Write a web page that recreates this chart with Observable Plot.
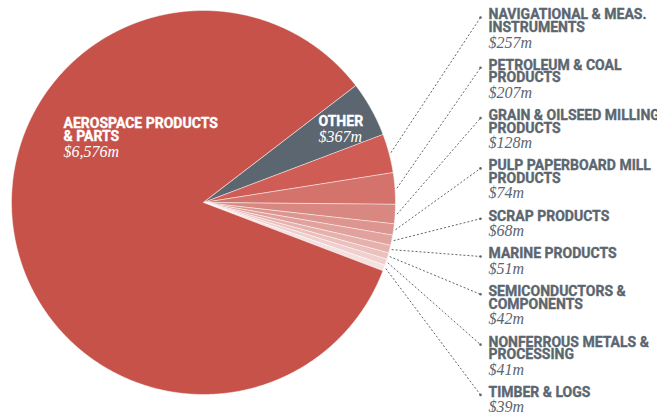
<!DOCTYPE html>
<html><head><meta charset="utf-8">
<script src="https://cdn.jsdelivr.net/npm/d3@7"></script>
<script src="https://cdn.jsdelivr.net/npm/@observablehq/plot@0.6"></script>
<style>html,body{margin:0;padding:0;background:#fff;} svg{display:block}</style>
</head><body><div id="chart"></div>
<script>
// ---- data ----
const categories = ["Other", "Navigational & Meas. Instruments", "Petroleum & Coal Products", "Grain & Oilseed Milling Products", "Pulp Paperboard Mill Products", "Scrap Products", "Marine Products", "Semiconductors & Components", "Nonferrous Metals & Processing", "Timber & Logs", "Aerospace Products & Parts"];
const labelText = ["OTHER", "NAVIGATIONAL & MEAS.\nINSTRUMENTS", "PETROLEUM & COAL\nPRODUCTS", "GRAIN & OILSEED MILLING\nPRODUCTS", "PULP PAPERBOARD MILL\nPRODUCTS", "SCRAP PRODUCTS", "MARINE PRODUCTS", "SEMICONDUCTORS &\nCOMPONENTS", "NONFERROUS METALS &\nPROCESSING", "TIMBER & LOGS", "AEROSPACE PRODUCTS\n& PARTS"];
const values = [367, 257, 207, 128, 74, 68, 51, 42, 41, 39, 6576];
const valueLabels = ["$367m", "$257m", "$207m", "$128m", "$74m", "$68m", "$51m", "$42m", "$41m", "$39m", "$6,576m"];
const palette = ["#5b6670", "#cf5d55", "#d4736c", "#d98781", "#dd958f", "#e1a29e", "#e6b1ad", "#ebc0bd", "#f0d0ce", "#f5e1e0", "#c6524a"];

// ---- layout ----
const W = 657, H = 412, cx = 203, cy = 202, R = 192;
const startAngle = 52.4 * Math.PI / 180;
const ux = px => (px - cx) / R;
const uy = py => (cy - py) / R;
const gray = "#5b6670";

const arcs = d3.pie().value(d => d).sort(null)
  .startAngle(startAngle).endAngle(startAngle + 2 * Math.PI)(values);

const poly = [];
arcs.forEach((a, i) => {
  const cat = categories[i];
  poly.push({cat, x: 0, y: 0});
  const n = Math.max(2, Math.ceil((a.endAngle - a.startAngle) / 0.005));
  for (let k = 0; k <= n; k++) {
    const t = a.startAngle + (a.endAngle - a.startAngle) * k / n;
    poly.push({cat, x: Math.sin(t), y: Math.cos(t)});
  }
});

// right-side labels (indices 1..9)
const right = [];
let dotY = 17;
for (let i = 1; i <= 9; i++) {
  const n = labelText[i].split("\n").length;
  const a = arcs[i];
  const mid = (a.startAngle + a.endAngle) / 2;
  right.push({
    title: labelText[i], value: valueLabels[i],
    x1: 1.01 * Math.sin(mid), y1: 1.01 * Math.cos(mid),
    x2: ux(480), y2: uy(dotY),
    tx: ux(488), ty: uy(dotY - 7), vy: uy(dotY - 7 + 12.5 * (n - 1) + 13.2)
  });
  dotY += 12.5 * n + 25.3;
}

// inner labels
const inner = [
  {title: labelText[10], value: valueLabels[10], tx: ux(63), ty: uy(119), vy: uy(119 + 13 + 13.3)},
  {title: labelText[0], value: valueLabels[0], tx: ux(318), ty: uy(117), vy: uy(117 + 13.3)}
];

const titleFont = {fontFamily: "Roboto", fontWeight: "bold", fontSize: 14, lineAnchor: "top", textAnchor: "start", lineHeight: 0.9, strokeWidth: 0.35};
const valueFont = {fontFamily: "Liberation Serif", fontStyle: "italic", fontSize: 16, lineAnchor: "top", textAnchor: "start"};

const chart = Plot.plot({
  width: W, height: H,
  marginTop: 0, marginRight: 0, marginBottom: 0, marginLeft: 0,
  x: {type: "linear", domain: [ux(0), ux(W)], axis: null},
  y: {type: "linear", domain: [uy(H), uy(0)], axis: null},
  color: {domain: categories, range: palette},
  marks: [
    Plot.line(poly, {x: "x", y: "y", z: "cat", fill: "cat", stroke: "white", strokeWidth: 0.5, curve: "linear-closed"}),
    Plot.link(right, {x1: "x1", y1: "y1", x2: "x2", y2: "y2", stroke: gray, strokeWidth: 1, strokeDasharray: "2,2"}),
    Plot.dot(right, {x: "x2", y: "y2", r: 1.3, fill: gray, stroke: null}),
    Plot.text(right, {x: "tx", y: "ty", text: "title", fill: gray, stroke: gray, ariaLabel: "titles", ...titleFont}),
    Plot.text(right, {x: "tx", y: "vy", text: "value", fill: gray, ...valueFont}),
    Plot.text(inner, {x: "tx", y: "ty", text: "title", fill: "white", stroke: "white", ariaLabel: "titles", ...titleFont}),
    Plot.text(inner, {x: "tx", y: "vy", text: "value", fill: "white", ...valueFont})
  ]
});

// horizontally condense the bold titles
chart.querySelectorAll('g[aria-label="titles"] text').forEach(t => {
  let tr = t.getAttribute("transform");
  if (!tr) {
    tr = `translate(${t.getAttribute("x") || 0},${t.getAttribute("y") || 0})`;
    t.removeAttribute("x"); t.removeAttribute("y");
  }
  t.setAttribute("transform", tr + " scale(0.845,1)");
});

document.getElementById("chart").appendChild(chart);
</script>
</body></html>
